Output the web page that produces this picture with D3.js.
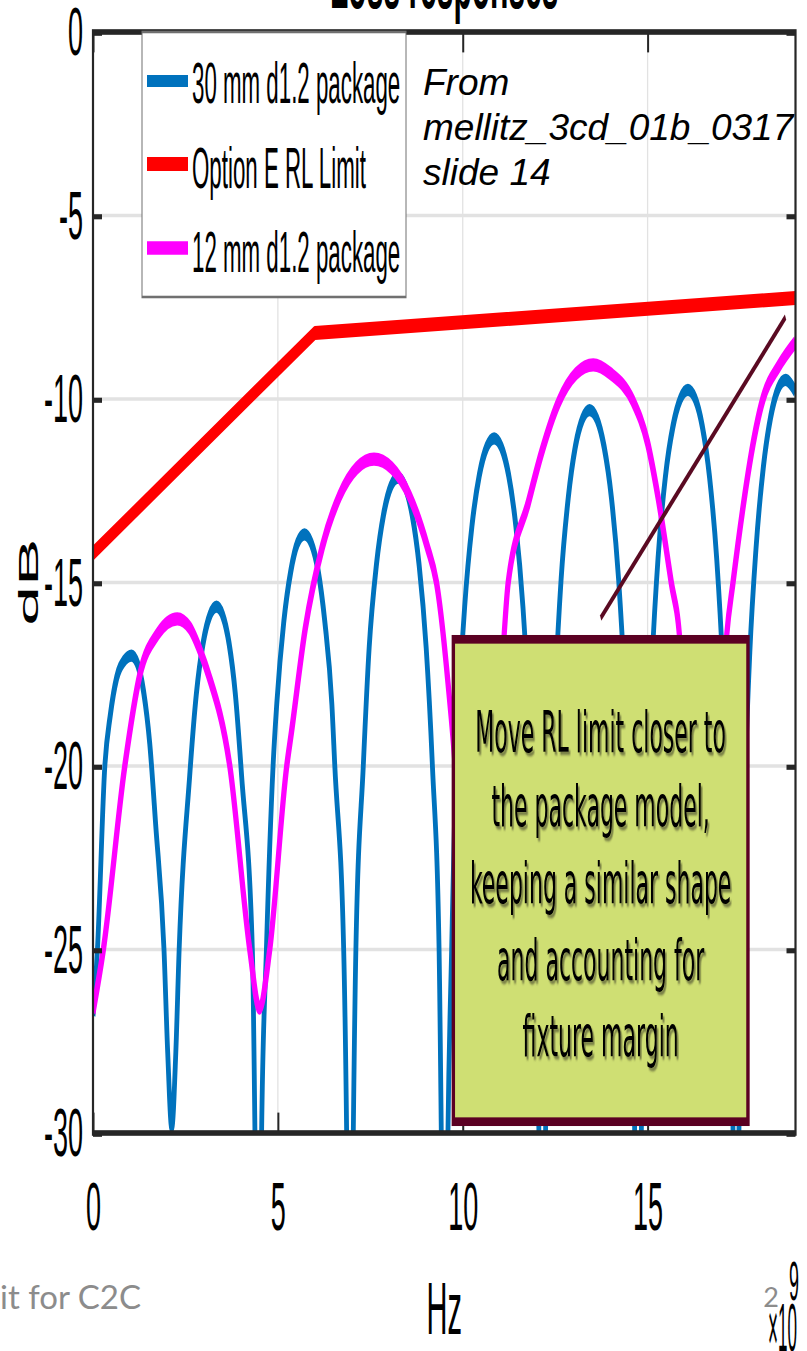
<!DOCTYPE html>
<html>
<head>
<meta charset="utf-8">
<script src="https://cdn.jsdelivr.net/npm/d3@7/dist/d3.min.js"></script>
<style>
  html, body { margin: 0; padding: 0; background: #fff; }
  svg { display: block; }
</style>
</head>
<body>
<svg id="chart" width="807" height="1351"></svg>
<script>
// Return loss of two package models against the Option E limit.
// Frequency in GHz (axis multiplier x10^9), level in dB.
const pkg30 = [
  [0,-26.8],[0.12,-25],[0.32,-20],[0.47,-18.6],[0.64,-17.6],[0.83,-17.15],[1.045,-16.99],
  [1.208,-17.23],[1.371,-17.99],[1.533,-19.37],[1.696,-21.61],[1.92,-25],[2.02,-27.8],[2.13,-29.84],
  [2.24,-27.8],[2.33,-25],[2.614,-20.28],[2.795,-18.04],[2.977,-16.66],[3.16,-15.9],[3.34,-15.66],
  [3.51,-15.9],[3.68,-16.66],[3.85,-18.04],[4.02,-20.28],[4.31,-25],[4.38,-30],[4.47,-40],[4.56,-30],
  [4.69,-25],[4.87,-20],[4.97,-18.31],[5.16,-16.07],[5.35,-14.69],[5.53,-13.93],[5.72,-13.69],
  [5.905,-13.93],[6.09,-14.69],[6.27,-16.07],[6.46,-18.31],[6.54,-20],[6.78,-25],[6.86,-30],[6.95,-40],
  [7.04,-30],[7.11,-25],[7.31,-20],[7.47,-16.76],[7.665,-14.52],[7.86,-13.14],[8.055,-12.38],[8.25,-12.14],
  [8.44,-12.38],[8.63,-13.14],[8.82,-14.52],[9.01,-16.76],[9.18,-20],[9.36,-25],[9.42,-30],[9.51,-40],
  [9.6,-30],[9.7,-25],[9.82,-20],[9.885,-18.49],[10.05,-15.69],[10.25,-13.45],[10.45,-12.07],[10.65,-11.31],
  [10.85,-11.07],[11.045,-11.31],[11.24,-12.07],[11.435,-13.45],[11.63,-15.69],[11.79,-18.49],[11.86,-20],
  [12.0,-25],[12.06,-30],[12.15,-40],[12.24,-30],[12.3,-25],[12.42,-20],[12.51,-17.72],[12.66,-14.92],
  [12.855,-12.68],[13.045,-11.3],[13.24,-10.54],[13.43,-10.3],[13.627,-10.54],[13.823,-11.3],[14.02,-12.68],
  [14.216,-14.92],[14.373,-17.72],[14.504,-21.39],[14.6,-25],[14.65,-30],[14.74,-40],[14.83,-30],[14.9,-25],
  [14.98,-20.84],[15.12,-17.17],[15.28,-14.37],[15.48,-12.13],[15.685,-10.75],[15.89,-9.99],[16.09,-9.75],
  [16.285,-9.99],[16.48,-10.75],[16.675,-12.13],[16.87,-14.37],[17.026,-17.17],[17.156,-20.84],[17.26,-25],
  [17.31,-30],[17.39,-40],[17.47,-30],[17.53,-25],[17.63,-20.57],[17.765,-16.9],[17.93,-14.1],[18.13,-11.86],
  [18.33,-10.48],[18.53,-9.72],[18.73,-9.48],[19,-9.8]
];
const pkg12 = [
  [0,-26.7],[0.28,-25],[0.86,-20],[1.27,-17.5],[1.75,-16.4],[2.28,-15.99],[2.613,-16.23],[2.946,-16.99],
  [3.12,-17.5],[3.7,-20],[4.24,-25],[4.5,-26.6],[4.78,-25],[5.24,-20],[5.37,-19.06],[5.74,-16.26],
  [6.205,-14.02],[6.67,-12.64],[7.135,-11.88],[7.6,-11.64],[8.08,-11.88],[8.56,-12.64],[9.04,-14.02],
  [9.29,-15],[9.69,-18.7],[10.1,-24],[10.5,-28],[10.85,-22],[11.12,-16.43],[11.23,-15],[11.77,-12.84],
  [12.135,-11.45],[12.6,-10.07],[13.065,-9.31],[13.53,-9.07],[14.0,-9.31],[14.6,-10.05],[15.0,-11.2],
  [15.28,-12.66],[15.64,-15],[15.86,-16.43],[16.15,-22],[16.5,-27],[16.85,-22],[17.14,-16.43],[17.31,-15],
  [18.12,-10],[18.55,-9.1],[19,-8.45]
];
const rlLimit = [[0,-14.2],[6,-8.2],[19,-7.25]];

const seriesNames  = ["30 mm d1.2 package", "Option E RL Limit", "12 mm d1.2 package"];
const seriesColors = ["#0072BD", "#FF0000", "#FF00FF"];
const seriesWidths = [4.8, 5.5, 5.2];

const xTicks = [0, 5, 10, 15];
const yTicks = [0, -5, -10, -15, -20, -25, -30];

const noteLines = ["Move RL limit closer to", "the package model,", "keeping a similar shape",
                   "and accounting for", "fixture margin"];
const noteCorners = [[9.70, -16.43], [17.76, -29.81]];   // GHz, dB
const pointer = [[13.73, -15.97], [18.73, -7.77]];       // GHz, dB
const sourceLines = ["From", "mellitz_3cd_01b_0317", "slide 14"];

// The figure is rendered with a vertical stretch; all figure geometry lives in
// the stretched group, so y positions are given in screen pixels divided by K.
const K = 2.55;
const sy = v => v / K;
const FONT = "'Liberation Sans', Arial, Helvetica, sans-serif";

const svg = d3.select("#chart");
const defs = svg.append("defs");
const shadow = defs.append("filter").attr("id", "textShadow")
  .attr("x", "-10%").attr("y", "-10%").attr("width", "120%").attr("height", "130%");
shadow.append("feDropShadow").attr("dx", 1.6).attr("dy", 1.3).attr("stdDeviation", 0.5)
  .attr("flood-color", "#3d3d25").attr("flood-opacity", 0.6);

const fig = svg.append("g").attr("transform", `scale(1,${K})`);

const plotL = 93, plotR = 795.5, plotT = sy(32), plotB = sy(1133);
const x = d3.scaleLinear().domain([0, 19]).range([plotL, plotR]);
const y = d3.scaleLinear().domain([-30, 0]).range([plotB, plotT]);

defs.append("clipPath").attr("id", "plotClip")
  .append("rect").attr("x", plotL).attr("y", plotT)
  .attr("width", plotR - plotL).attr("height", plotB - plotT);

// grid
const grid = fig.append("g").attr("stroke", "#e2e2e2").attr("stroke-width", 1.3);
grid.selectAll("line.gx").data(xTicks.slice(1)).join("line")
  .attr("x1", d => x(d)).attr("x2", d => x(d)).attr("y1", plotT).attr("y2", plotB);
grid.selectAll("line.gy").data(yTicks.slice(1, -1)).join("line")
  .attr("x1", plotL).attr("x2", plotR).attr("y1", d => y(d)).attr("y2", d => y(d));

// traces, drawn in legend order; the limit is piecewise linear
const smooth = d3.line().x(d => x(d[0])).y(d => y(d[1])).curve(d3.curveMonotoneX);
const straight = d3.line().x(d => x(d[0])).y(d => y(d[1]));
const traces = [
  { data: pkg30, gen: smooth },
  { data: rlLimit, gen: straight },
  { data: pkg12, gen: smooth }
];
fig.append("g").attr("clip-path", "url(#plotClip)")
  .selectAll("path").data(traces).join("path")
  .attr("d", d => d.gen(d.data))
  .attr("fill", "none")
  .attr("stroke", (d, i) => seriesColors[i])
  .attr("stroke-width", (d, i) => seriesWidths[i])
  .attr("stroke-linejoin", "round");

// axes with inward ticks
const axisColor = "#262626";
function styleAxis(g, tickW) {
  g.select(".domain").remove();
  g.attr("font-family", null).attr("font-size", null);
  g.selectAll("line").attr("stroke", axisColor).attr("stroke-width", tickW);
  g.selectAll("text").attr("font-family", FONT).attr("font-size", 27).attr("fill", "#000");
}
const fmt = d => String(d);
fig.append("g").attr("transform", `translate(${plotL},0)`)
  .call(d3.axisLeft(y).tickValues(yTicks).tickFormat(fmt).tickSizeInner(-9).tickSizeOuter(0).tickPadding(10))
  .call(g => styleAxis(g, 2));
fig.append("g").attr("transform", `translate(${plotR},0)`)
  .call(d3.axisRight(y).tickValues(yTicks).tickFormat("").tickSizeInner(-9).tickSizeOuter(0))
  .call(g => styleAxis(g, 2));
fig.append("g").attr("transform", `translate(0,${plotB})`)
  .call(d3.axisBottom(x).tickValues(xTicks).tickFormat(fmt).tickSizeInner(-8).tickSizeOuter(0).tickPadding(19))
  .call(g => styleAxis(g, 2));
fig.append("g").attr("transform", `translate(0,${plotT})`)
  .call(d3.axisTop(x).tickValues(xTicks).tickFormat("").tickSizeInner(-8).tickSizeOuter(0))
  .call(g => styleAxis(g, 2));

fig.append("rect").attr("x", plotL).attr("y", plotT)
  .attr("width", plotR - plotL).attr("height", plotB - plotT)
  .attr("fill", "none").attr("stroke", axisColor).attr("stroke-width", 2.2);

// axis labels, title and exponent
fig.append("text").attr("x", (plotL + plotR) / 2).attr("y", sy(1334))
  .attr("text-anchor", "middle").attr("font-family", FONT).attr("font-size", 29).text("Hz");
fig.append("text").attr("transform", `translate(38,${sy(582)}) rotate(-90)`)
  .attr("text-anchor", "middle").attr("font-family", FONT).attr("font-size", 28).text("dB");
fig.append("text").attr("x", (plotL + plotR) / 2).attr("y", sy(8))
  .attr("text-anchor", "middle").attr("font-family", FONT).attr("font-size", 30)
  .attr("font-weight", "bold").text("Loss responses");
fig.append("text").attr("x", 768).attr("y", sy(1351))
  .attr("font-family", FONT).attr("font-size", 27)
  .attr("textLength", 29).attr("lengthAdjust", "spacingAndGlyphs").text("\u00d710");
fig.append("text").attr("x", 789).attr("y", sy(1300))
  .attr("font-family", FONT).attr("font-size", 22)
  .attr("textLength", 10).attr("lengthAdjust", "spacingAndGlyphs").text("9");

// legend
const lg = fig.append("g");
lg.append("rect").attr("x", 142).attr("y", sy(32)).attr("width", 264).attr("height", sy(297) - sy(32))
  .attr("fill", "#fff").attr("stroke", "#707070").attr("stroke-width", 1);
const rowY = [81, 164, 248];
const rowBase = [103, 188, 272];
seriesNames.forEach((name, i) => {
  lg.append("line").attr("x1", 147).attr("x2", 188).attr("y1", sy(rowY[i])).attr("y2", sy(rowY[i]))
    .attr("stroke", seriesColors[i]).attr("stroke-width", seriesWidths[i]);
  lg.append("text").attr("x", 192).attr("y", sy(rowBase[i]))
    .attr("font-family", FONT).attr("font-size", 22.3).attr("fill", "#000").text(name);
});

// annotation box and pointer
const bx0 = x(noteCorners[0][0]), bx1 = x(noteCorners[1][0]);
const by0 = y(noteCorners[0][1]), by1 = y(noteCorners[1][1]);
const bw = 3.4;
fig.append("rect").attr("x", bx0 + bw / 2).attr("y", by0 + bw / 2)
  .attr("width", bx1 - bx0 - bw).attr("height", by1 - by0 - bw)
  .attr("fill", "#cfdf73").attr("stroke", "#5b0022").attr("stroke-width", bw);
const noteMid = (bx0 + bx1) / 2;
const noteBase = [752, 826, 903, 980, 1056];
fig.append("g").attr("font-family", "'DejaVu Sans', Verdana, sans-serif")
  .attr("font-size", 22).attr("text-anchor", "middle").attr("fill", "#000")
  .attr("filter", "url(#textShadow)")
  .selectAll("text").data(noteLines).join("text")
  .attr("x", noteMid).attr("y", (d, i) => sy(noteBase[i])).text(d => d);
fig.append("line")
  .attr("x1", x(pointer[0][0])).attr("y1", y(pointer[0][1]))
  .attr("x2", x(pointer[1][0])).attr("y2", y(pointer[1][1]))
  .attr("stroke", "#5a0a22").attr("stroke-width", 2.5);

// slide overlays (not stretched)
const src = svg.append("g").attr("font-family", FONT).attr("font-style", "italic")
  .attr("font-size", 37).attr("fill", "#000");
sourceLines.forEach((t, i) => {
  src.append("text").attr("x", 423).attr("y", [95, 140, 185][i]).text(t);
});
svg.append("text").attr("x", 141).attr("y", 1309).attr("text-anchor", "end")
  .attr("font-family", "Lato, 'Open Sans', sans-serif").attr("font-size", 33)
  .attr("fill", "#8c8c8c").text("RL Limit for C2C");
svg.append("text").attr("x", 771).attr("y", 1307).attr("text-anchor", "middle")
  .attr("font-family", "Lato, 'Open Sans', sans-serif").attr("font-size", 27)
  .attr("fill", "#8c8c8c").text("2");
</script>
</body>
</html>
